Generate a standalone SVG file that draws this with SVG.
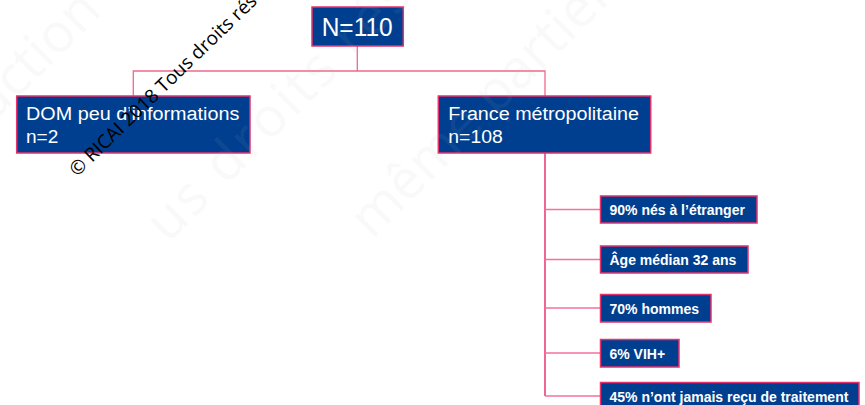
<svg xmlns="http://www.w3.org/2000/svg" width="865" height="405" viewBox="0 0 865 405">
  <style>
    .box { fill: #003f8f; stroke: #e5336e; stroke-width: 1.5; }
    .big { font-family: "Liberation Sans", Arial, sans-serif; font-size: 18px; fill: #ffffff; }
    .top { font-family: "Liberation Sans", Arial, sans-serif; font-size: 25px; fill: #ffffff; }
    .small { font-family: "Liberation Sans", Arial, sans-serif; font-size: 14px; font-weight: bold; fill: #ffffff; }
    .lineA { fill: none; stroke: #ee6a8c; stroke-width: 1.3; }
    .lineB { fill: none; stroke: #e8336e; stroke-width: 1.5; }
    .lineC { fill: none; stroke: #f2729a; stroke-width: 1.3; }
    .wm { font-family: "Open Sans", "DejaVu Sans", sans-serif; font-size: 54px; fill: #b8b8b8; opacity: 0.08; }
    .copy { font-family: "Open Sans", "DejaVu Sans", sans-serif; font-size: 19px; fill: #000000; }
  </style>
  <rect width="865" height="405" fill="#ffffff"/>

  <g id="connectors">
    <path class="lineA" d="M357.3,46 V71 M133.3,96 V71 H545 V96"/>
    <path class="lineB" d="M545,153 V396"/>
    <path class="lineC" d="M545,209.5 H600.5 M545,259.5 H600.5 M545,308 H600.5 M545,353 H600.5 M545,396 H600.5"/>
  </g>

  <g id="node-total">
    <rect class="box" x="312" y="7" width="91.3" height="39"/>
    <text class="top" x="321.7" y="36" textLength="71" lengthAdjust="spacingAndGlyphs">N=110</text>
  </g>

  <g id="node-dom">
    <rect class="box" x="16.7" y="96" width="233.3" height="57"/>
    <text class="big" x="26" y="120" textLength="213.3" lengthAdjust="spacingAndGlyphs">DOM peu d’informations</text>
    <text class="big" x="26" y="143.3" textLength="32.3" lengthAdjust="spacingAndGlyphs">n=2</text>
  </g>

  <g id="node-france">
    <rect class="box" x="438.3" y="96" width="212.4" height="57"/>
    <text class="big" x="448.3" y="119.5" textLength="190.7" lengthAdjust="spacingAndGlyphs">France métropolitaine</text>
    <text class="big" x="448.3" y="143" textLength="54.4" lengthAdjust="spacingAndGlyphs">n=108</text>
  </g>

  <g id="node-etranger">
    <rect class="box" x="600.5" y="196" width="156.5" height="27"/>
    <text class="small" x="609.5" y="215.3">90% nés à l’étranger</text>
  </g>

  <g id="node-age">
    <rect class="box" x="600.5" y="246" width="147.5" height="27"/>
    <text class="small" x="609.5" y="265">Âge médian 32 ans</text>
  </g>

  <g id="node-hommes">
    <rect class="box" x="600.5" y="294.5" width="110.5" height="27.5"/>
    <text class="small" x="609.5" y="313.5">70% hommes</text>
  </g>

  <g id="node-vih">
    <rect class="box" x="600.5" y="339.5" width="78.5" height="27.5"/>
    <text class="small" x="609.5" y="358.5">6% VIH+</text>
  </g>

  <g id="node-traitement">
    <rect class="box" x="600.5" y="382.5" width="258.5" height="30"/>
    <text class="small" x="609.5" y="401.5">45% n’ont jamais reçu de traitement</text>
  </g>

  <g id="watermark">
    <text class="wm" transform="translate(-8,124) rotate(-45)">uction</text>
    <text class="wm" transform="translate(168,244) rotate(-45)" letter-spacing="3">us droits réser</text>
    <text class="wm" transform="translate(372,240) rotate(-45)">même partiel</text>
    <text class="copy" transform="translate(77,177.3) rotate(-44)">© RICAI 2018 Tous droits réservés</text>
  </g>
</svg>
